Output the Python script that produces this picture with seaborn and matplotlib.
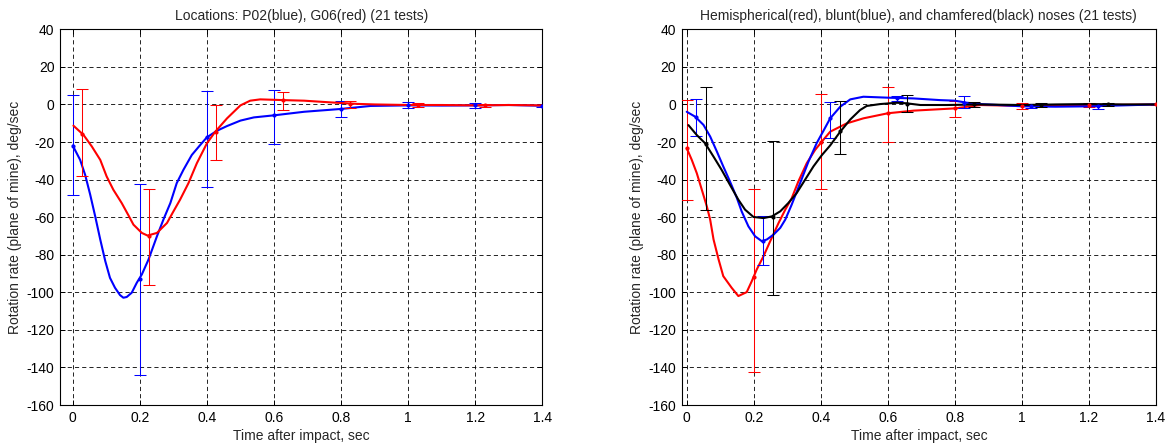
import numpy as np
import pandas as pd
import matplotlib
matplotlib.use("Agg")
import matplotlib.pyplot as plt
import seaborn as sns

# ---------------- data ----------------
# Left panel: locations P02 (blue) and G06 (red)
p02_t = [0, 0.022, 0.037, 0.052, 0.067, 0.082, 0.097, 0.111, 0.126, 0.141, 0.151, 0.161,
         0.176, 0.191, 0.206, 0.226, 0.251, 0.271, 0.291, 0.31, 0.33, 0.355, 0.38, 0.4,
         0.43, 0.46, 0.5, 0.54, 0.6, 0.69, 0.8, 0.888, 1.0, 1.1, 1.2, 1.3, 1.4]
p02_v = [-21.9, -29.5, -37.5, -48, -59.6, -71.9, -83.4, -92.3, -97.6, -101.5, -102.9, -102.5,
         -100.2, -94.9, -90.5, -82.5, -70.2, -61, -52.5, -41.9, -34.8, -26.9, -21.6, -17.5,
         -14, -11.5, -8.6, -6.9, -5.8, -3.9, -2.4, -0.8, -0.5, -0.6, -0.5, -0.3, -0.7]
g06_t = [0.002, 0.032, 0.057, 0.082, 0.101, 0.121, 0.146, 0.166, 0.181, 0.206, 0.223, 0.251,
         0.281, 0.30, 0.32, 0.345, 0.37, 0.4, 0.425, 0.46, 0.5, 0.529, 0.559, 0.629, 0.69,
         0.768, 0.847, 0.9, 1.0, 1.1, 1.2, 1.3, 1.4]
g06_v = [-11.3, -16.2, -22.4, -29.5, -38.3, -45.4, -52.5, -59, -64, -68.4, -69.8, -68.4,
         -63.1, -57, -50.7, -41.9, -31.3, -20.7, -14.5, -7.4, -0.5, 2, 2.7, 2.3, 2,
         1.1, 0.3, 0, -0.3, -0.3, -0.5, -0.3, -0.5]
p02_err_t = [0, 0.2, 0.4, 0.6, 0.8, 1.0, 1.2, 1.4]
p02_err_c = [-21.9, -93, -17.5, -5.8, -2.4, -0.5, -0.5, -0.7]
p02_err_lo = [-48.4, -143.9, -44.2, -21, -6.9, -2.1, -2, -1.2]
p02_err_hi = [5, -42.4, 7.1, 7.6, 2, 1.2, 1, -0.2]
g06_err_t = [0.028, 0.228, 0.428, 0.628, 0.828, 1.028, 1.228]
g06_err_c = [-16, -70, -14.5, 2.3, 0.5, -0.3, -0.5]
g06_err_lo = [-38.3, -96.3, -29.5, -3, -2.1, -1.3, -1.5]
g06_err_hi = [8, -44.9, -0.3, 6.8, 2, 0.8, 0.5]

# Right panel: hemispherical (red), blunt (blue), chamfered (black) noses
hemi_t = [0, 0.015, 0.03, 0.045, 0.06, 0.07, 0.08, 0.095, 0.109, 0.134, 0.154, 0.179, 0.194,
          0.209, 0.229, 0.249, 0.274, 0.294, 0.313, 0.333, 0.358, 0.383, 0.403, 0.428, 0.477,
          0.527, 0.6, 0.677, 0.8, 0.876, 1.0, 1.1, 1.2, 1.3, 1.4]
hemi_v = [-23.3, -29.5, -36.6, -45.4, -54.3, -61.4, -71.9, -82.5, -91.4, -97.6, -102, -99.9, -94.1,
          -87.8, -80.8, -72.8, -63.1, -56, -50, -41, -31.3, -24.2, -19.8, -14.5, -10.1,
          -7.4, -4.7, -3.3, -2.1, -0.3, -0.8, -0.5, -0.3, -0.2, 0]
blunt_t = [0, 0.025, 0.05, 0.07, 0.09, 0.109, 0.129, 0.149, 0.164, 0.184, 0.204, 0.224, 0.239,
           0.259, 0.279, 0.294, 0.313, 0.338, 0.363, 0.388, 0.408, 0.428, 0.458, 0.488, 0.527,
           0.6, 0.677, 0.756, 0.8, 0.836, 0.876, 0.95, 1.0, 1.1, 1.2, 1.3, 1.4]
blunt_v = [-3.9, -6.5, -10.9, -17.1, -25.1, -33, -41, -49.5, -57, -64.9, -70.2, -72.8, -71.9,
           -69.3, -65.7, -61.3, -53.4, -42, -30.5, -20.5, -14, -7.4, -1.2, 2.7, 4.1,
           3.6, 3.2, 2.3, 2, 0.9, 0.2, -0.5, -1, -1.2, -1, -0.5, 0]
cham_t = [0.005, 0.03, 0.055, 0.08, 0.104, 0.129, 0.154, 0.174, 0.199, 0.229, 0.254, 0.279,
          0.303, 0.328, 0.353, 0.378, 0.403, 0.428, 0.458, 0.488, 0.517, 0.537, 0.577, 0.627,
          0.656, 0.697, 0.776, 0.876, 1.0, 1.1, 1.2, 1.3, 1.4]
cham_v = [-11, -16.3, -20.7, -27.8, -34.8, -42.8, -50.7, -56, -59.9, -60.5, -59.6, -56.9,
          -52.5, -47.2, -40.1, -33, -27, -21.8, -14.5, -8, -3, -0.8, 0.2, 0.9,
          0.6, -0.3, -0.3, 0, -0.3, 0, 0.2, 0, 0]
hemi_err_t = [0, 0.2, 0.4, 0.6, 0.8, 1.0, 1.2, 1.4]
hemi_err_c = [-23.3, -92, -19.8, -4.7, -2.1, -0.8, -0.3, 0]
hemi_err_lo = [-50.7, -142.3, -44.9, -19.8, -6.9, -2.3, -1.3, -0.5]
hemi_err_hi = [2.3, -44.9, 5.5, 9.1, 1.8, 0.8, 0.7, 0.5]
blunt_err_t = [0.028, 0.228, 0.428, 0.628, 0.828, 1.028, 1.228]
blunt_err_c = [-6.9, -72.8, -7.4, 3.2, 0.9, -1, -1]
blunt_err_lo = [-16.8, -85.7, -18, 2, -2.1, -2, -2.5]
blunt_err_hi = [2.9, -59.6, 1.1, 4.5, 4.5, 0, 0.5]
cham_err_t = [0.058, 0.258, 0.458, 0.658, 0.858, 1.058, 1.258]
cham_err_c = [-21, -60, -14, 0.5, 0, -0.3, 0]
cham_err_lo = [-56, -101.5, -26.3, -4.2, -1.2, -1.3, -1]
cham_err_hi = [9.4, -19.5, 2, 5.2, 1.2, 0.7, 1]

x_ticks = [0, 0.2, 0.4, 0.6, 0.8, 1.0, 1.2, 1.4]
x_ticklabels = ["0", "0.2", "0.4", "0.6", "0.8", "1", "1.2", "1.4"]
y_ticks = [40, 20, 0, -20, -40, -60, -80, -100, -120, -140, -160]

titles = ["Locations: P02(blue), G06(red) (21 tests)",
          "Hemispherical(red), blunt(blue), and chamfered(black) noses (21 tests)"]
xlabel = "Time after impact, sec"
ylabel = "Rotation rate (plane of mine), deg/sec"

# ---------------- styling ----------------
sns.set_style("ticks")
plt.rcParams["font.family"] = ["Liberation Sans", "DejaVu Sans"]
plt.rcParams["font.size"] = 10
plt.rcParams["lines.scale_dashes"] = False

fig = plt.figure(figsize=(11.68, 4.48), dpi=100)
axL = fig.add_axes([0.05137, 0.09598, 0.41293, 0.83862])
axR = fig.add_axes([0.58365, 0.09598, 0.40608, 0.83862])


def draw_series(ax, t, v, et, ec, elo, ehi, color):
    df = pd.DataFrame({"t": t, "v": v})
    sns.lineplot(data=df, x="t", y="v", color=color, linewidth=1.5, ax=ax,
                 estimator=None, sort=False, zorder=3)
    ec = np.asarray(ec, float)
    yerr = [ec - np.asarray(elo, float), np.asarray(ehi, float) - ec]
    ax.errorbar(et, ec, yerr=yerr, fmt="o", ms=2.0, color=color, ecolor=color,
                elinewidth=0.75, capsize=4.5, capthick=0.75, zorder=3)


draw_series(axL, p02_t, p02_v, p02_err_t, p02_err_c, p02_err_lo, p02_err_hi, (0, 0, 1))
draw_series(axL, g06_t, g06_v, g06_err_t, g06_err_c, g06_err_lo, g06_err_hi, (1, 0, 0))

draw_series(axR, hemi_t, hemi_v, hemi_err_t, hemi_err_c, hemi_err_lo, hemi_err_hi, (1, 0, 0))
draw_series(axR, blunt_t, blunt_v, blunt_err_t, blunt_err_c, blunt_err_lo, blunt_err_hi, (0, 0, 1))
draw_series(axR, cham_t, cham_v, cham_err_t, cham_err_c, cham_err_lo, cham_err_hi, (0, 0, 0))

for ax, title, xl in [(axL, titles[0], (-0.038, 1.4)), (axR, titles[1], (-0.015, 1.4))]:
    ax.set_xlim(*xl)
    ax.set_ylim(-160, 40)
    ax.set_xticks(x_ticks)
    ax.set_xticklabels(x_ticklabels)
    ax.set_yticks(y_ticks)
    ax.set_yticklabels([str(y) for y in y_ticks])
    ax.grid(True, color="black", linestyle=(0, (3.0, 2.2)), linewidth=0.6)
    ax.set_axisbelow(True)
    ax.tick_params(direction="in", length=3.5, width=0.7, top=True, right=True,
                   labelsize=10, pad=4, colors="black")
    for s in ax.spines.values():
        s.set_visible(True)
        s.set_color("black")
        s.set_linewidth(0.8)
    ax.set_title(title, fontsize=10, pad=7)
    ax.set_xlabel(xlabel, fontsize=10, labelpad=3)
    ax.set_ylabel(ylabel, fontsize=10, labelpad=3)
    ax.set_facecolor("white")

fig.patch.set_facecolor("white")
fig.savefig("out.png", dpi=100, facecolor="white")
